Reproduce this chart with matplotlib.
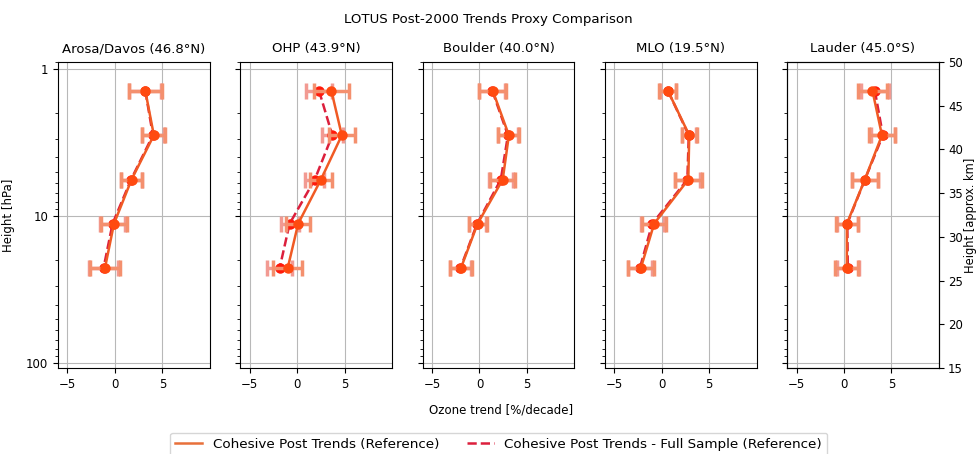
import matplotlib
matplotlib.use("Agg")
import matplotlib.pyplot as plt
from matplotlib.lines import Line2D
from matplotlib.ticker import ScalarFormatter, NullFormatter

# ---- data ----
stations = ["Arosa/Davos (46.8°N)", "OHP (43.9°N)", "Boulder (40.0°N)", "MLO (19.5°N)", "Lauder (45.0°S)"]
pressure = [1.41, 2.83, 5.66, 11.3, 22.6]  # hPa (Umkehr layer mid-points)

ref_trend = [
    [3.2, 4.1, 1.75, -0.1, -1.05],
    [3.6, 4.7, 2.5, 0.1, -1.0],
    [1.4, 3.1, 2.45, -0.2, -1.95],
    [0.65, 2.9, 2.8, -0.8, -2.2],
    [3.0, 4.0, 2.2, 0.3, 0.3],
]
ref_err = [
    [1.75, 1.2, 1.15, 1.4, 1.6],
    [1.85, 1.4, 1.2, 1.3, 1.5],
    [1.4, 1.1, 1.3, 0.95, 1.2],
    [0.9, 0.8, 1.4, 1.25, 1.35],
    [1.55, 1.35, 1.4, 1.15, 1.2],
]
full_trend = [
    [3.2, 4.0, 1.7, -0.25, -1.2],
    [2.3, 3.7, 1.85, -0.8, -1.85],
    [1.35, 3.0, 2.25, -0.25, -2.0],
    [0.65, 2.85, 2.7, -1.0, -2.3],
    [3.25, 4.1, 2.2, 0.35, 0.4],
]
full_err = [
    [1.7, 1.2, 1.1, 1.35, 1.55],
    [1.35, 1.1, 1.0, 0.95, 1.3],
    [1.35, 1.05, 1.25, 0.9, 1.15],
    [0.85, 0.75, 1.35, 1.2, 1.3],
    [1.5, 1.3, 1.35, 1.1, 1.15],
]
x_ticks = [-5, 0, 5]
km_ticks = [15, 20, 25, 30, 35, 40, 45, 50]

ref_color = "#f05a24"
ref_mcolor = "#ff4a10"
full_color = "#dc1f3c"
full_mcolor = "#ff1a0a"
err_color = "#f4906e"
err_color_full = "#f29a92"

fig, axes = plt.subplots(1, 5, figsize=(9.76, 4.54), dpi=100, sharey=True)
fig.subplots_adjust(left=0.0594, right=0.962, bottom=0.1894, top=0.8634, wspace=0.2)

for i, ax in enumerate(axes):
    ax.errorbar(full_trend[i], pressure, xerr=full_err[i], fmt='--o', color=full_color,
                mfc=full_mcolor, mec=full_mcolor, ms=6.5, lw=1.8,
                ecolor=err_color_full, elinewidth=2.5, capsize=6, capthick=2.5, zorder=3)
    ax.errorbar(ref_trend[i], pressure, xerr=ref_err[i], fmt='-o', color=ref_color,
                mfc=ref_mcolor, mec=ref_mcolor, ms=6.5, lw=1.8,
                ecolor=err_color, elinewidth=2.5, capsize=6, capthick=2.5, zorder=4)
    ax.set_yscale('log')
    ax.set_ylim(108, 0.9)
    ax.set_xlim(-6, 10)
    ax.set_xticks(x_ticks)
    ax.grid(True, which='major', color='#b8b8b8', lw=0.8)
    ax.set_axisbelow(True)
    ax.set_title(stations[i], fontsize=9.5, pad=7)
    ax.tick_params(labelsize=8.5)

axes[0].yaxis.set_major_formatter(ScalarFormatter())
axes[0].yaxis.set_minor_formatter(NullFormatter())
axes[0].set_ylabel("Height [hPa]", fontsize=8.5, labelpad=8)

ax2 = axes[-1].twinx()
ax2.set_ylim(15, 50)
ax2.set_yticks(km_ticks)
ax2.tick_params(labelsize=8.5, pad=3)
ax2.set_ylabel("Height [approx. km]", fontsize=8.3, labelpad=1)

fig.suptitle("LOTUS Post-2000 Trends Proxy Comparison", fontsize=9.6, y=0.972)
fig.text(0.513, 0.097, "Ozone trend [%/decade]", ha='center', va='center', fontsize=8.5)

handles = [Line2D([], [], color="#e8703a", lw=1.8),
           Line2D([], [], color=full_color, lw=1.8, ls='--')]
labels = ["Cohesive Post Trends (Reference)", "Cohesive Post Trends - Full Sample (Reference)"]
fig.legend(handles, labels, loc='upper center', bbox_to_anchor=(0.511, 1 - 426 / 454),
           ncol=2, fontsize=9.7, frameon=True, columnspacing=2.0)

fig.savefig("out.png", dpi=100)
